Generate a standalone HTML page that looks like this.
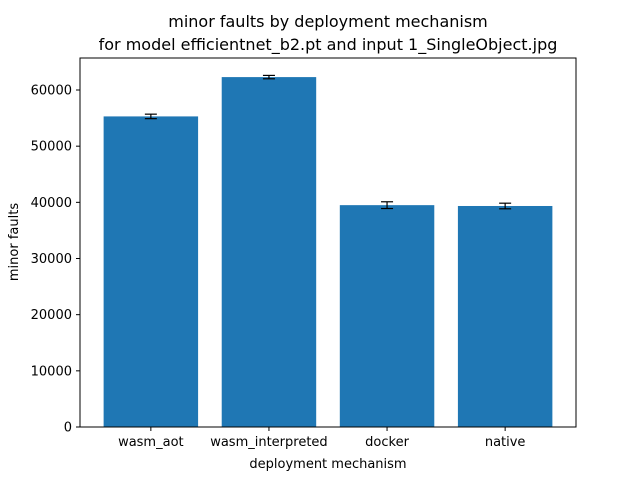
<!DOCTYPE html>
<html><head><meta charset="utf-8"><style>
body{margin:0;background:#fff}
svg text{font-family:"DejaVu Sans","Liberation Sans",sans-serif;fill:#000}
</style></head><body>
<svg id="chart" width="640" height="480">
<rect width="640" height="480" fill="#fff"/>
<text x="328" y="27" font-size="16" text-anchor="middle">minor faults by deployment mechanism</text>
<text x="328" y="50" font-size="16" text-anchor="middle">for model efficientnet_b2.pt and input 1_SingleObject.jpg</text>
<g id="bars"></g><g id="ticks"></g>
<rect x="80" y="58" width="496" height="369" fill="none" stroke="#000" stroke-width="1"/>
<text x="328" y="468" font-size="13" text-anchor="middle">deployment mechanism</text>
<text transform="translate(18,242) rotate(-90)" font-size="13" text-anchor="middle">minor faults</text>
</svg>
<script>
const categories=["wasm_aot","wasm_interpreted","docker","native"];
const values=[55300,62300,39500,39350];
const errors=[400,300,600,500];
const yTicks=[0,10000,20000,30000,40000,50000,60000];
const L=80,R=576,T=58,B=427,yMax=65700,xMin=-0.6,xMax=3.6;
const ns="http://www.w3.org/2000/svg";
function y(v){return B-(v/yMax)*(B-T);}
function x(i){return L+(i-xMin)/(xMax-xMin)*(R-L);}
function mk(t,a,p){const e=document.createElementNS(ns,t);for(const k in a)e.setAttribute(k,a[k]);p.appendChild(e);return e;}
const bars=document.getElementById('bars'),ticks=document.getElementById('ticks');
const bw=0.8*(R-L)/(xMax-xMin);
categories.forEach((c,i)=>{
  const r=mk('rect',{x:x(i)-bw/2,y:y(values[i]),width:bw,height:B-y(values[i]),fill:'#1f77b4'},bars);
  
  
  const g=mk('g',{stroke:'#000','stroke-width':1.2},bars);
  
  
  const y1=y(values[i]+errors[i]),y2=y(values[i]-errors[i]);
  mk('line',{x1:x(i),x2:x(i),y1:y1,y2:y2},g);
  mk('line',{x1:x(i)-6,x2:x(i)+6,y1:y1,y2:y1},g);
  mk('line',{x1:x(i)-6,x2:x(i)+6,y1:y2,y2:y2},g);
  mk('line',{x1:x(i),x2:x(i),y1:B,y2:B+4,stroke:'#000'},ticks);
  const t=mk('text',{x:x(i),y:B+19,'font-size':13,'text-anchor':'middle'},ticks);
  t.textContent=c;
  
  
});
yTicks.forEach(v=>{
  mk('line',{x1:L-4,x2:L,y1:y(v),y2:y(v),stroke:'#000'},ticks);
  const t=mk('text',{x:L-8,y:y(v)+4.5,'font-size':13,'text-anchor':'end'},ticks);
  t.textContent=v;
  
  
});
</script>
</body></html>
